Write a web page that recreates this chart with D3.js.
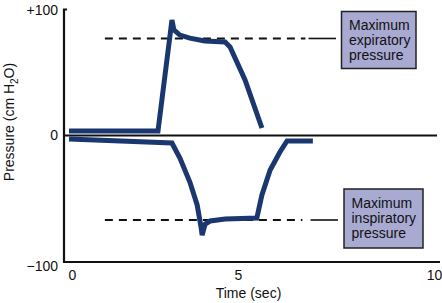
<!DOCTYPE html>
<html><head><meta charset="utf-8">
<script src="https://cdn.jsdelivr.net/npm/d3@7"></script>
<style>body{margin:0;background:#fff}svg{display:block;font-family:"Liberation Sans",Arial,sans-serif}</style>
</head><body><svg id="c" width="442" height="303"></svg>
<script>
// ---- data ----
const xTicks = [0, 5, 10];
const yTicks = [100, 0, -100];
const yTickLabels = ["+100", "0", "\u2212100"];
const expTime = [-0.09, 2.59, 2.98, 3.01, 3.07, 3.25, 3.55, 4.0, 4.61, 4.76, 5.18, 5.61];
const expPressure = [3.6, 3.6, 85, 91.3, 83.4, 79.4, 77, 74.7, 73.9, 70, 43.9, 5.9];
const inspTime = [-0.09, 3.01, 3.25, 3.55, 3.77, 3.89, 3.92, 4.01, 4.16, 4.61, 5.48, 5.61, 5.82, 6.07, 6.25, 6.91];
const inspPressure = [-2.8, -5.9, -17.8, -36.8, -54.9, -73, -78.7, -70, -67.6, -66, -65.2, -47, -27.3, -13, -4.3, -4.3];
const refLevels = [76.7, -66.8];             // max expiratory / inspiratory pressure
const refDashRange = [0.99, 6.72];
const refLeaderRange = [6.8, 7.5];
const boxLabels = [["Maximum", "expiratory", "pressure"], ["Maximum", "inspiratory", "pressure"]];
const xLabel = "Time (sec)";

// ---- scales ----
const svg = d3.select("#c");
const x = d3.scaleLinear().domain([0, 5, 10]).range([72, 238, 434]);
const y = d3.scaleLinear().domain([-100, 0, 100]).range([262, 135.5, 9]);
const navy = "#1b3770";

// axes lines
svg.append("path").attr("d", `M67,9.5H64V262H440`).attr("fill", "none").attr("stroke", "#111").attr("stroke-width", 2.2);
svg.append("line").attr("x1", 64).attr("x2", 437).attr("y1", y(0)).attr("y2", y(0)).attr("stroke", "#111").attr("stroke-width", 2.2);

// tick labels via axes
const ya = d3.axisLeft(y).tickValues(yTicks).tickSize(0).tickPadding(6)
  .tickFormat((d, i) => yTickLabels[i]);
const yg = svg.append("g").attr("transform", "translate(64,0)").call(ya);
yg.select(".domain").remove();
yg.selectAll("text").attr("font-size", 14).attr("fill", "#111").attr("font-family", '"Liberation Sans",Arial,sans-serif');
yg.selectAll(".tick").filter(d => d === -100).select("text").attr("dy", "0.62em");
yg.selectAll(".tick").filter(d => d === 100).select("text").attr("dy", "0.38em");

const xa = d3.axisBottom(x).tickValues(xTicks).tickSize(0).tickPadding(8).tickFormat(d3.format("d"));
const xg = svg.append("g").attr("transform", "translate(0,262)").call(xa);
xg.select(".domain").remove();
xg.selectAll("text").attr("font-size", 14).attr("fill", "#111").attr("font-family", '"Liberation Sans",Arial,sans-serif');

// axis titles
svg.append("text").attr("x", 248.5).attr("y", 298).attr("text-anchor", "middle")
  .attr("font-size", 14).attr("fill", "#111").text(xLabel);
const yl = svg.append("text").attr("transform", "translate(14,122) rotate(-90)")
  .attr("text-anchor", "middle").attr("font-size", 14).attr("fill", "#111");
yl.append("tspan").text("Pressure (cm H");
yl.append("tspan").attr("font-size", 10).attr("dy", 4).text("2");
yl.append("tspan").attr("dy", -4).text("O)");

// reference dashed lines
refLevels.forEach((v, i) => {
  svg.append("line").attr("x1", x(refDashRange[0])).attr("x2", x(refDashRange[1]) - (i ? 3 : 0))
    .attr("y1", y(v)).attr("y2", y(v)).attr("stroke", "#111").attr("stroke-width", 2)
    .attr("stroke-dasharray", "8,6");
  svg.append("line").attr("x1", x(refLeaderRange[0]) + (i ? 2 : 0)).attr("x2", x(refLeaderRange[1]) + (i ? 2 : 0))
    .attr("y1", y(v)).attr("y2", y(v)).attr("stroke", "#111").attr("stroke-width", 1.6);
});

// curves
const line = d3.line().x(d => x(d[0])).y(d => y(d[1]));
[[expTime, expPressure], [inspTime, inspPressure]].forEach(([t, p]) => {
  svg.append("path").datum(t.map((d, i) => [d, p[i]])).attr("d", line)
    .attr("fill", "none").attr("stroke", navy).attr("stroke-width", 5)
    .attr("stroke-linejoin", "miter").attr("stroke-miterlimit", 3);
});

// label boxes
const boxes = [{x: 341.5, y: 11.5, w: 74.5, h: 57}, {x: 344, y: 189, w: 79, h: 59}];
boxes.forEach((b, i) => {
  svg.append("rect").attr("x", b.x).attr("y", b.y).attr("width", b.w).attr("height", b.h)
    .attr("fill", "#a8aad2").attr("stroke", "#222").attr("stroke-width", 1.5);
  boxLabels[i].forEach((s, j) => {
    svg.append("text").attr("x", b.x + 7.5).attr("y", b.y + 18.5 + j * 15)
      .attr("font-size", 14).attr("fill", "#111").text(s);
  });
});
</script></body></html>
